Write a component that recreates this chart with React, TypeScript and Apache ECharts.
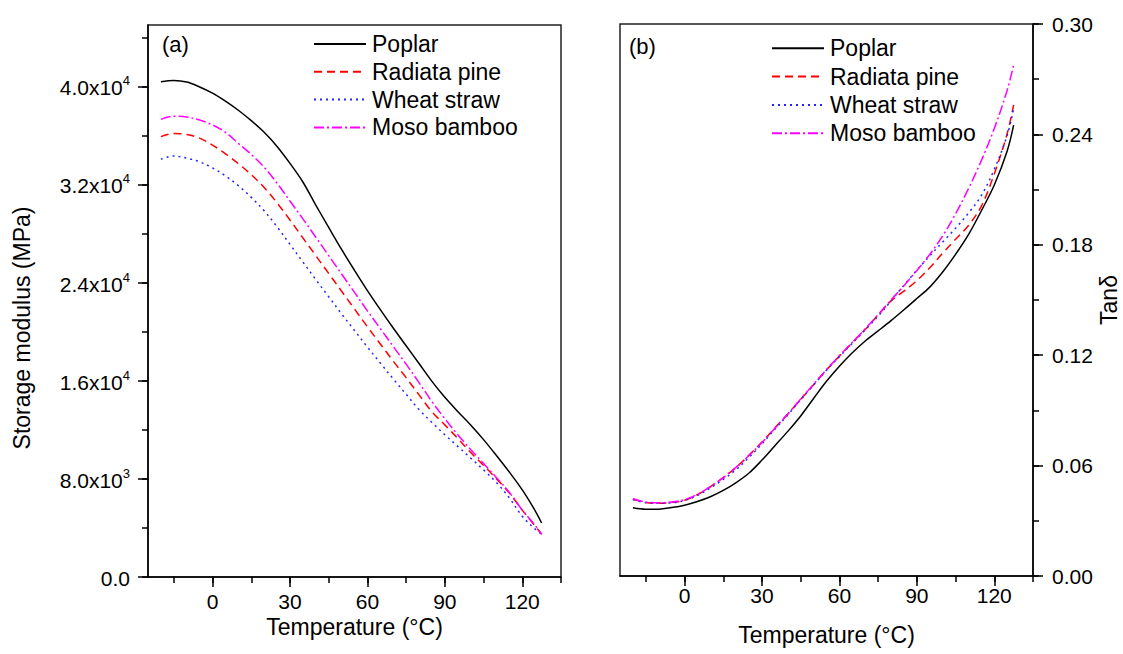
import React, { useEffect, useRef } from 'react';
import * as echarts from 'echarts';

const temperature = [-20, -15, -10, -5, 0, 5, 10, 15, 20, 25, 30, 35, 40, 45, 50, 55, 60, 65, 70, 75, 80, 85, 90, 95, 100, 105, 110, 115, 120, 125, 127.5];

const poplarModulus = [40380, 40480, 40350, 39950, 39450, 38800, 38050, 37200, 36250, 35100, 33720, 32200, 30320, 28500, 26700, 25000, 23350, 21800, 20300, 18850, 17400, 15950, 14650, 13500, 12400, 11200, 9900, 8550, 7100, 5400, 4400];
const radiataModulus = [35900, 36150, 36080, 35780, 35200, 34500, 33700, 32800, 31750, 30500, 29100, 27650, 26200, 24750, 23300, 21850, 20400, 19000, 17600, 16250, 14850, 13470, 12400, 11300, 10150, 9100, 8000, 6850, 5450, 4150, 3480];
const wheatModulus = [34050, 34320, 34150, 33850, 33350, 32700, 31900, 30950, 29850, 28550, 27120, 25680, 24250, 22850, 21450, 20100, 18750, 17450, 16150, 14900, 13650, 12600, 11600, 10650, 9700, 8730, 7700, 6450, 4950, 3900, 3480];
const mosoModulus = [37310, 37560, 37500, 37250, 36850, 36250, 35350, 34450, 33400, 32100, 30650, 29200, 27700, 26200, 24700, 23200, 21700, 20250, 18800, 17350, 15850, 14300, 12900, 11600, 10400, 9250, 8100, 6900, 5450, 4200, 3480];

const poplarTan = [0.0371, 0.0363, 0.0363, 0.0372, 0.0385, 0.0405, 0.0431, 0.0465, 0.0508, 0.056, 0.063, 0.0708, 0.0786, 0.087, 0.0965, 0.1058, 0.114, 0.1213, 0.1277, 0.1332, 0.1388, 0.1447, 0.1508, 0.157, 0.1652, 0.1748, 0.1855, 0.1985, 0.2125, 0.231, 0.245];
const radiataTan = [0.0417, 0.04, 0.0396, 0.04, 0.0412, 0.0442, 0.0485, 0.0535, 0.059, 0.0658, 0.0728, 0.0805, 0.088, 0.096, 0.104, 0.112, 0.1195, 0.1268, 0.134, 0.1418, 0.1495, 0.1548, 0.1605, 0.1675, 0.1755, 0.183, 0.1905, 0.201, 0.2185, 0.2405, 0.256];
const wheatTan = [0.0415, 0.0398, 0.0395, 0.0398, 0.041, 0.0438, 0.0478, 0.0525, 0.0578, 0.0645, 0.0718, 0.0798, 0.0875, 0.0958, 0.1038, 0.1118, 0.1192, 0.1265, 0.1338, 0.1412, 0.1495, 0.158, 0.1662, 0.174, 0.1815, 0.189, 0.1972, 0.2068, 0.221, 0.2395, 0.254];
const mosoTan = [0.042, 0.0402, 0.0398, 0.0402, 0.0415, 0.0444, 0.0486, 0.0535, 0.0592, 0.0655, 0.0725, 0.0803, 0.088, 0.0962, 0.1042, 0.1122, 0.1198, 0.127, 0.1343, 0.142, 0.15, 0.1578, 0.166, 0.1748, 0.1848, 0.1968, 0.2105, 0.2258, 0.2432, 0.264, 0.2777];

const seriesNames = ['Poplar', 'Radiata pine', 'Wheat straw', 'Moso bamboo'];
const seriesColors = ['#000000', '#ff0000', '#2424ff', '#ff00ff'];
const seriesDashes: any[] = ['solid', [8, 5], [2, 4], [10, 3, 2, 3]];

const modulusLabelValues = [0, 8000, 16000, 24000, 32000, 40000];
const modulusMantissa = ['0.0', '8.0x10', '1.6x10', '2.4x10', '3.2x10', '4.0x10'];
const modulusExponent = ['', '3', '4', '4', '4', '4'];
const tanLabelValues = [0, 0.06, 0.12, 0.18, 0.24, 0.3];
const tanLabels = ['0.00', '0.06', '0.12', '0.18', '0.24', '0.30'];

const FONT = '"Liberation Sans", Arial, sans-serif';
const AXIS_COLOR = '#000';
const MAJOR_LEN = 10;
const MINOR_LEN = 6;

// plot geometry
const A_LEFT = 148, A_TOP = 25;
const B_LEFT = 620, B_TOP = 24;
const PLOT_W = 413, PLOT_H = 552;
const T_MIN = -25, T_MAX = 135;
const E_MAX = 45000, TAN_MAX = 0.3;
const pxPerDeg = PLOT_W / (T_MAX - T_MIN);
const pxPerMPa = PLOT_H / E_MAX;

function makeSeries(sets: number[][], xi: number, yi: number) {
  return seriesNames.map((name, k) => ({
    type: 'line',
    name,
    xAxisIndex: xi,
    yAxisIndex: yi,
    data: temperature.map((t, i) => [t, sets[k][i]]),
    symbol: 'none',
    showSymbol: false,
    smooth: 0.35,
    lineStyle: { color: seriesColors[k], width: 1.5, type: seriesDashes[k] },
    itemStyle: { color: seriesColors[k] },
  }));
}

const tickLine = { color: AXIS_COLOR, width: 1.5 };
const hiddenAxis = (gridIndex: number) => ({ gridIndex, type: 'value', show: false, min: 0, max: 1 });

export default function App() {
  const ref = useRef<HTMLDivElement>(null);
  useEffect(() => {
    if (!ref.current) return;
    const chart = echarts.init(ref.current, null, { renderer: 'svg' });

    const grids = [
      { left: A_LEFT, top: A_TOP, width: PLOT_W, height: PLOT_H, show: true, borderColor: '#222', borderWidth: 1.5, backgroundColor: 'transparent' },
      { left: B_LEFT, top: B_TOP, width: PLOT_W, height: PLOT_H, show: true, borderColor: '#222', borderWidth: 1.5, backgroundColor: 'transparent' },
      { left: A_LEFT + (0 - T_MIN) * pxPerDeg, top: A_TOP, width: 120 * pxPerDeg, height: PLOT_H },
      { left: A_LEFT + (-15 - T_MIN) * pxPerDeg, top: A_TOP, width: 150 * pxPerDeg, height: PLOT_H },
      { left: A_LEFT, top: A_TOP + PLOT_H - 40000 * pxPerMPa, width: PLOT_W, height: 40000 * pxPerMPa },
      { left: A_LEFT, top: A_TOP + PLOT_H - 44000 * pxPerMPa, width: PLOT_W, height: 44000 * pxPerMPa },
      { left: B_LEFT + (0 - T_MIN) * pxPerDeg, top: B_TOP, width: 120 * pxPerDeg, height: PLOT_H },
      { left: B_LEFT + (-15 - T_MIN) * pxPerDeg, top: B_TOP, width: 150 * pxPerDeg, height: PLOT_H },
    ];

    const xName = (gap: number) => ({
      name: 'Temperature (°C)',
      nameLocation: 'middle',
      nameGap: gap,
      nameTextStyle: { fontSize: 23, lineHeight: 22, fontFamily: FONT, color: '#000' },
    });

    const xMajor = (gridIndex: number, margin: number) => ({
      gridIndex,
      type: 'value',
      min: 0,
      max: 120,
      interval: 30,
      position: 'bottom',
      axisLine: { show: false, onZero: false },
      axisTick: { show: true, inside: false, length: MAJOR_LEN, lineStyle: tickLine },
      axisLabel: { show: true, fontSize: 21, lineHeight: 19, fontFamily: FONT, color: '#000', margin },
      splitLine: { show: false },
    });
    const xMinor = (gridIndex: number) => ({
      gridIndex,
      type: 'value',
      min: -15,
      max: 135,
      interval: 15,
      position: 'bottom',
      axisLine: { show: false, onZero: false },
      axisTick: { show: true, inside: false, length: MINOR_LEN, lineStyle: tickLine },
      axisLabel: { show: false },
      splitLine: { show: false },
    });

    const option: any = {
      animation: false,
      backgroundColor: '#ffffff',
      grid: grids,
      xAxis: [
        {
          gridIndex: 0, type: 'value', min: T_MIN, max: T_MAX, position: 'bottom',
          axisLine: { show: true, onZero: false, lineStyle: tickLine },
          axisTick: { show: false }, axisLabel: { show: false }, splitLine: { show: false },
          ...xName(39),
        },
        {
          gridIndex: 1, type: 'value', min: T_MIN, max: T_MAX, position: 'bottom',
          axisLine: { show: true, onZero: false, lineStyle: tickLine },
          axisTick: { show: false }, axisLabel: { show: false }, splitLine: { show: false },
          ...xName(48),
        },
        xMajor(2, 15),
        xMinor(3),
        hiddenAxis(4),
        hiddenAxis(5),
        xMajor(6, 10),
        xMinor(7),
      ],
      yAxis: [
        {
          gridIndex: 0, type: 'value', min: 0, max: E_MAX, position: 'left',
          axisLine: { show: true, onZero: false, lineStyle: tickLine },
          axisTick: { show: false }, axisLabel: { show: false }, splitLine: { show: false },
          name: 'Storage modulus (MPa)',
          nameLocation: 'middle',
          nameGap: 115,
          nameRotate: 90,
          nameTextStyle: { fontSize: 23, fontFamily: FONT, color: '#000', padding: [0, 54, 0, 0] },
        },
        {
          gridIndex: 1, type: 'value', min: 0, max: TAN_MAX, interval: 0.06, position: 'right',
          axisLine: { show: true, onZero: false, lineStyle: tickLine },
          axisTick: { show: true, inside: false, length: MAJOR_LEN, lineStyle: tickLine },
          axisLabel: {
            margin: 19, fontSize: 21, fontFamily: FONT, color: '#000',
            formatter: (v: number) => {
              const i = tanLabelValues.findIndex((t) => Math.abs(t - v) < 1e-9);
              return i < 0 ? '' : tanLabels[i];
            },
          },
          splitLine: { show: false },
          name: 'Tanδ',
          nameLocation: 'middle',
          nameGap: 64,
          nameRotate: 90,
          nameTextStyle: { fontSize: 23, fontFamily: FONT, color: '#000' },
        },
        {
          gridIndex: 1, type: 'value', min: 0, max: TAN_MAX, interval: 0.03, position: 'right',
          axisLine: { show: false, onZero: false },
          axisTick: { show: true, inside: false, length: MINOR_LEN, lineStyle: tickLine },
          axisLabel: { show: false }, splitLine: { show: false },
        },
        hiddenAxis(2),
        hiddenAxis(3),
        {
          gridIndex: 4, type: 'value', min: 0, max: 40000, interval: 8000, position: 'left',
          axisLine: { show: false, onZero: false },
          axisTick: { show: true, inside: false, length: MAJOR_LEN, lineStyle: tickLine },
          axisLabel: {
            margin: 18,
            formatter: (v: number) => {
              const i = modulusLabelValues.indexOf(v);
              if (i < 0) return '';
              return modulusExponent[i] ? `{m|${modulusMantissa[i]}}{e|${modulusExponent[i]}}` : `{m|${modulusMantissa[i]}}`;
            },
            rich: {
              m: { fontSize: 21, fontFamily: FONT, color: '#000', lineHeight: 24, verticalAlign: 'bottom' },
              e: { fontSize: 13, fontFamily: FONT, color: '#000', lineHeight: 14, verticalAlign: 'top' },
            },
          },
          splitLine: { show: false },
        },
        {
          gridIndex: 5, type: 'value', min: 0, max: 44000, interval: 4000, position: 'left',
          axisLine: { show: false, onZero: false },
          axisTick: { show: true, inside: false, length: MINOR_LEN, lineStyle: tickLine },
          axisLabel: { show: false }, splitLine: { show: false },
        },
        hiddenAxis(6),
        hiddenAxis(7),
      ],
      legend: [
        {
          left: 313, top: 32.5, orient: 'vertical', padding: 0,
          itemWidth: 52, itemHeight: 14, itemGap: 4.8, selectedMode: false,
          itemStyle: { opacity: 0 },
          textStyle: { fontSize: 23, fontFamily: FONT, color: '#000', padding: [0, 0, 0, 1] },
          data: seriesNames,
        },
        {
          left: 771, top: 36.8, orient: 'vertical', padding: 0,
          itemWidth: 52, itemHeight: 14, itemGap: 5.3, selectedMode: false,
          itemStyle: { opacity: 0 },
          textStyle: { fontSize: 23, fontFamily: FONT, color: '#000', padding: [0, 0, 0, 1] },
          data: seriesNames,
        },
      ],
      graphic: [
        { type: 'text', left: 162, top: 33, style: { text: '(a)', font: `22px ${FONT}`, fill: '#000' } },
        { type: 'text', left: 629, top: 35, style: { text: '(b)', font: `22px ${FONT}`, fill: '#000' } },
      ],
      series: [
        ...makeSeries([poplarModulus, radiataModulus, wheatModulus, mosoModulus], 0, 0),
        ...makeSeries([poplarTan, radiataTan, wheatTan, mosoTan], 1, 1),
      ],
    };
    chart.setOption(option);
    return () => chart.dispose();
  }, []);
  return <div ref={ref} style={{ position: 'absolute', left: 0, top: 0, width: 1123, height: 654 }} />;
}
